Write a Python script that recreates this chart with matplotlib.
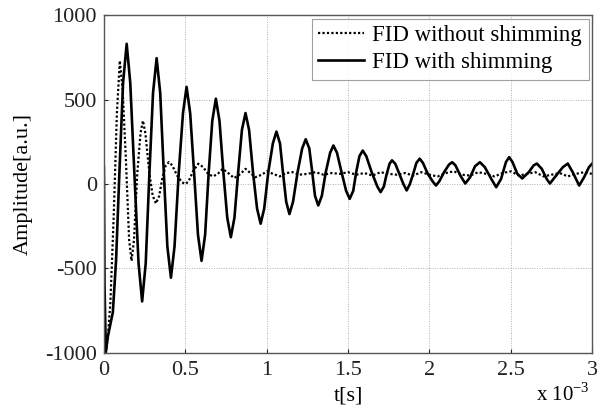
import matplotlib
matplotlib.use("Agg")
import matplotlib.pyplot as plt

# time in units of 1e-3 s, amplitude in a.u.
t_without = [0.012, 0.025, 0.04, 0.06, 0.08, 0.098, 0.115, 0.135, 0.155, 0.17,
             0.185, 0.205, 0.225, 0.24, 0.255, 0.28, 0.30, 0.32, 0.34, 0.36,
             0.38, 0.40, 0.42, 0.45, 0.48, 0.50, 0.52, 0.55, 0.58, 0.61, 0.64,
             0.67, 0.70, 0.73, 0.77, 0.80, 0.84, 0.87, 0.90, 0.93, 0.97, 1.0,
             1.04, 1.08, 1.12, 1.16, 1.2, 1.25, 1.3, 1.35, 1.4, 1.45, 1.5, 1.55,
             1.6, 1.65, 1.7, 1.75, 1.8, 1.85, 1.9, 1.95, 2.0, 2.05, 2.1, 2.15,
             2.2, 2.25, 2.3, 2.35, 2.4, 2.45, 2.5, 2.55, 2.6, 2.65, 2.7, 2.75,
             2.8, 2.85, 2.9, 2.95, 3.0]
amp_without = [-1000, -900, -700, -200, 420, 730, 560, 150, -330, -455,
               -330, 60, 300, 375, 300, 60, -70, -115, -70, 40,
               110, 130, 110, 50, 10, 0, 15, 80, 120, 100, 60,
               45, 60, 90, 60, 35, 60, 90, 65, 40, 55, 75,
               60, 45, 65, 70, 55, 60, 70, 55, 65, 60, 70, 55,
               65, 50, 70, 60, 55, 65, 50, 70, 55, 45, 65, 75,
               55, 50, 70, 60, 45, 65, 75, 50, 60, 70, 45, 55,
               65, 45, 60, 70, 60]

t_with = [0.0, 0.004, 0.012, 0.025, 0.04, 0.055, 0.075, 0.095, 0.118, 0.14,
          0.162, 0.187, 0.213, 0.235, 0.257, 0.28, 0.302, 0.324, 0.346, 0.368,
          0.39, 0.412, 0.434, 0.46, 0.486, 0.508, 0.53, 0.554, 0.578, 0.60,
          0.622, 0.644, 0.666, 0.688, 0.71, 0.734, 0.758, 0.78, 0.802, 0.825,
          0.848, 0.87, 0.892, 0.916, 0.941, 0.963, 0.985, 1.01, 1.038, 1.06,
          1.082, 1.10, 1.12, 1.14, 1.162, 1.19, 1.218, 1.24, 1.262, 1.28,
          1.297, 1.317, 1.339, 1.363, 1.39, 1.41, 1.432, 1.46, 1.488, 1.51,
          1.532, 1.55, 1.57, 1.59, 1.612, 1.645, 1.68, 1.70, 1.72, 1.735,
          1.755, 1.77, 1.79, 1.815, 1.84, 1.86, 1.88, 1.90, 1.92, 1.94,
          1.96, 1.99, 2.02, 2.04, 2.06, 2.09, 2.12, 2.14, 2.16, 2.19,
          2.22, 2.25, 2.28, 2.31, 2.34, 2.38, 2.41, 2.44, 2.47, 2.49,
          2.51, 2.54, 2.57, 2.61, 2.64, 2.66, 2.69, 2.72, 2.74, 2.77,
          2.82, 2.85, 2.88, 2.92, 2.95, 2.98, 3.0]
amp_with = [100, -600, -990, -900, -830, -760, -450, 60, 600, 830,
            600, 70, -470, -695, -470, 70, 540, 745, 540, 70,
            -370, -555, -370, 70, 420, 575, 420, 70, -300, -455,
            -300, 70, 375, 505, 375, 70, -200, -315, -200, 70,
            320, 420, 320, 70, -145, -235, -145, 70, 240, 310,
            240, 70, -105, -178, -105, 70, 210, 265, 210, 70,
            -70, -127, -70, 70, 185, 228, 185, 70, -40, -88,
            -40, 70, 165, 198, 165, 70, -15, -48, -15, 50,
            120, 140, 120, 60, 0, -38, 0, 60, 125, 150,
            125, 60, 15, -9, 15, 70, 115, 129, 110, 50,
            3, 40, 105, 129, 100, 30, -19, 30, 130, 159,
            130, 60, 33, 70, 110, 121, 90, 30, 3, 40,
            100, 121, 70, -9, 40, 100, 121]

x_ticks = [0, 0.5, 1, 1.5, 2, 2.5, 3]
x_ticklabels = ["0", "0.5", "1", "1.5", "2", "2.5", "3"]
y_ticks = [-1000, -500, 0, 500, 1000]
y_ticklabels = ["-1000", "-500", "0", "500", "1000"]

plt.rcParams["font.family"] = ["Liberation Serif", "DejaVu Serif"]
plt.rcParams["mathtext.fontset"] = "custom"
plt.rcParams["mathtext.rm"] = "Liberation Serif"

fig = plt.figure(figsize=(5.97, 4.08), dpi=100)
ax = fig.add_axes([0.174, 0.135, 0.818, 0.828])

ax.plot(t_without, amp_without, color="black", linewidth=1.6,
        linestyle=(0, (1, 1)), label="FID without shimming")
ax.plot(t_with, amp_with, color="black", linewidth=1.9,
        label="FID with shimming")

ax.set_xlim(0, 3)
ax.set_ylim(-1000, 1000)
ax.set_xticks(x_ticks)
ax.set_xticklabels(x_ticklabels)
ax.set_yticks(y_ticks)
ax.set_yticklabels(y_ticklabels)
ax.tick_params(direction="in", length=3, labelsize=16, colors="#222222")
ax.tick_params(axis="y", pad=5)
ax.tick_params(axis="x", pad=6)
ax.grid(True, linestyle=(0, (1, 1.5)), color="#b0b0b0", linewidth=0.7)
for s in ax.spines.values():
    s.set_color("#555555")
    s.set_linewidth(1.0)

ax.set_xlabel("t[s]", fontsize=16)
ax.xaxis.set_label_coords(0.5, -0.10)
ax.xaxis.label.set_va("top")
ax.set_ylabel("Amplitude[a.u.]", fontsize=16)
ax.yaxis.set_label_coords(-0.145, 0.5)

leg = ax.legend(loc="upper right", fontsize=16.5, frameon=True, fancybox=False,
                edgecolor="#888888", handlelength=2.0, handletextpad=0.35,
                borderpad=0.3, labelspacing=0.25, borderaxespad=0.15)
leg.get_frame().set_linewidth(0.8)

fig.text(536 / 597, 0.006, r"x 10$^{-3}$", fontsize=15, ha="left", va="bottom")

fig.savefig("out.png", dpi=100)
